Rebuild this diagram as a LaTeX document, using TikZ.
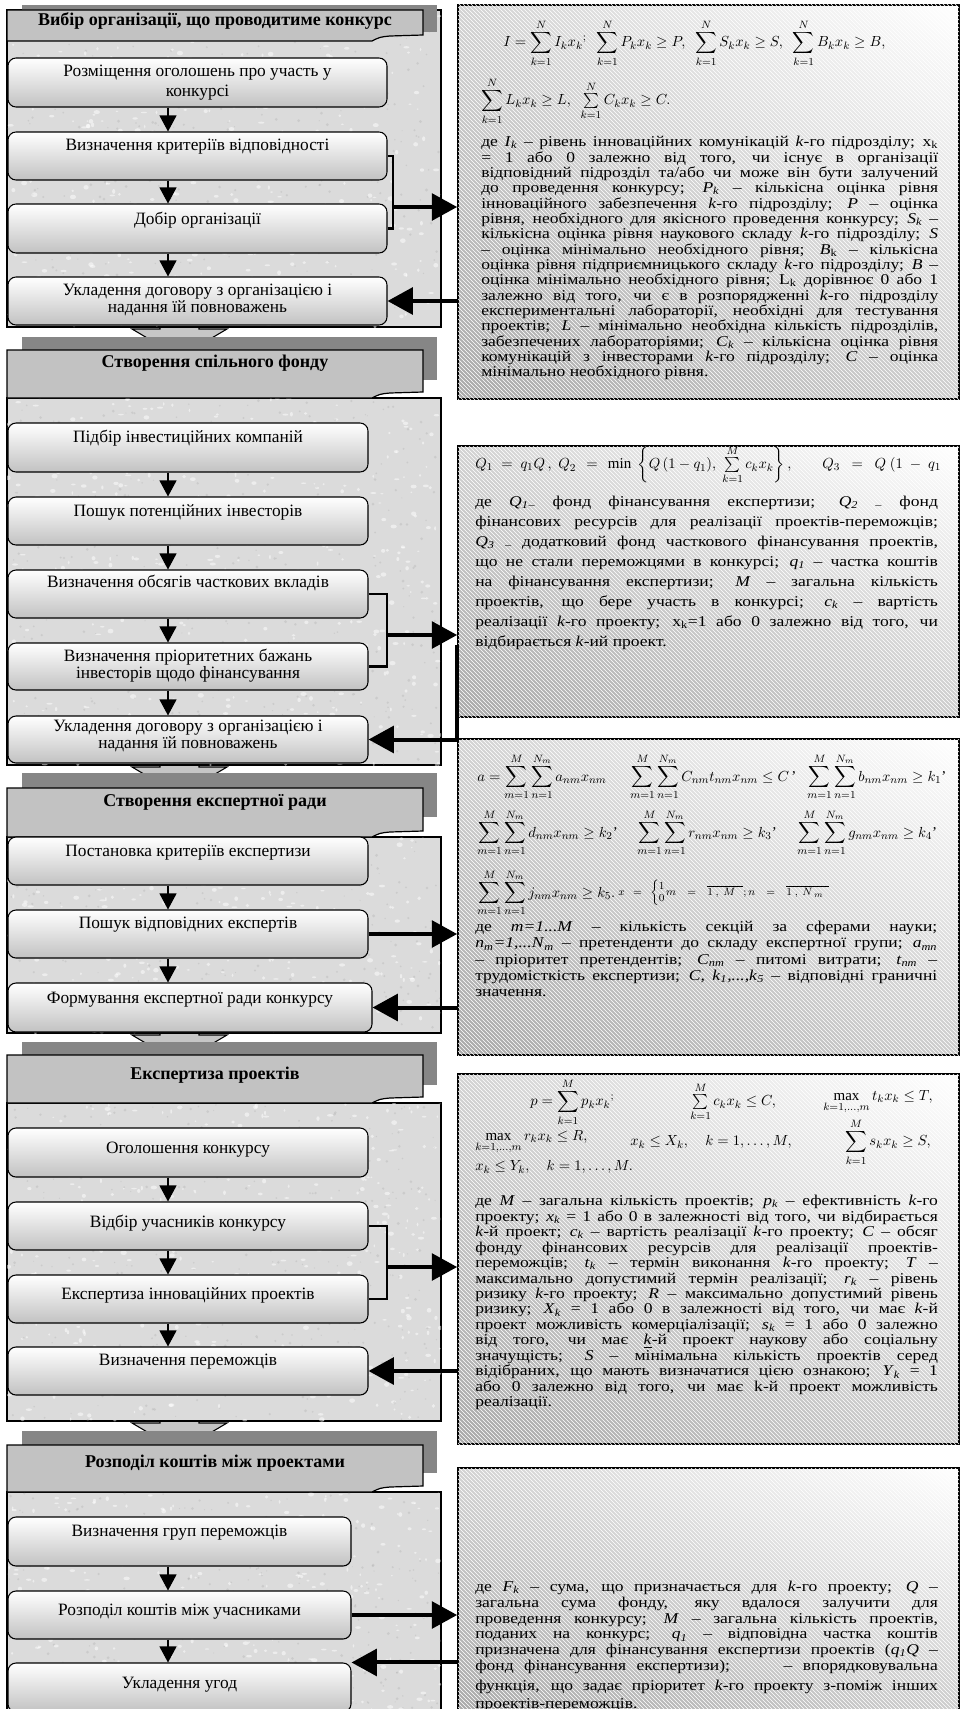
\documentclass[tikz,border=0pt]{standalone}
\usepackage{amsmath,amssymb}
\usepackage{fontspec}
\setmainfont{Liberation Serif}
\newfontfamily\rtfont[FakeStretch=1.17]{Liberation Serif}
\usetikzlibrary{arrows.meta,fit,patterns,shadings}
\newcommand\iv[2]{\textit{#1}\textsubscript{\textit{#2}}}
\newcommand\sechead[4]{%
  \fill[hshadow] (22,#3) rectangle (437,#4);
  \draw[hdr] (7,#1) -- (423,#1) -- (423,#2-6) -- (390,#2-5) .. controls (380,#2-4) .. (372,#2) -- (7,#2) -- cycle;}
\newcommand\speckle[5]{%
  \begin{scope}
  \clip (#1,#2) rectangle (#3,#4);
  \foreach \i in {1,...,#5}{%
    \fill[white,opacity=0.5] ({#1+(#3-#1)*rnd},{#2+(#4-#2)*rnd}) ellipse ({(0.6+1.8*rnd)*1pt} and {(0.5+1.3*rnd)*1pt});
    \fill[gray!75,opacity=0.25] ({#1+(#3-#1)*rnd},{#2+(#4-#2)*rnd}) circle ({(0.4+0.8*rnd)*1pt});}
  \end{scope}}
\hyphenpenalty=10000 \exhyphenpenalty=10000 \tolerance=9999 \hbadness=10000
\begin{document}
\begin{tikzpicture}[x=0.75pt,y=-0.75pt,
  lpanel/.style={draw=black, line width=0.9pt, fill=gray!28, inner sep=0pt},
  hshadow/.style={fill=gray!95},
  hdr/.style={draw=black, line width=0.9pt, fill=gray!48},
  hdrtxt/.style={font=\fontsize{13.5}{15}\selectfont\bfseries, inner sep=0pt, anchor=base},
  stepbox/.style={draw=black, line width=0.8pt, rounded corners=6pt, top color=white, bottom color=gray!48, inner sep=0pt},
  boxtxt/.style={font=\fontsize{13}{11.25}\selectfont, inner sep=0pt, align=center, anchor=north},
  dnarrow/.style={line width=0.8pt, -{Triangle[width=12.75pt,length=12pt]}},
  bracket/.style={line width=2.2pt},
  bigarrow/.style={line width=3pt, -{Triangle[width=20pt,length=19pt]}},
  rpanel/.style={draw=black, line width=1.3pt, inner sep=0pt, upper left=gray!35, upper right=white, lower left=gray!68, lower right=gray!40,
     postaction={pattern=north west lines, pattern color=white, fill opacity=0.45}},
  rtxt/.style={inner sep=0pt, anchor=north west, align=justify},
  fml/.style={inner sep=0pt, anchor=west, font=\fontsize{11.25}{13}\selectfont},
  blockarrow/.style={draw=black, line width=0.8pt, fill=gray!45},
]
\useasboundingbox (0,0) rectangle (962,1709);
\clip (0,0) rectangle (962,1709);
\fill[white] (0,0) rectangle (962,1709);
\pgfmathsetseed{7}
\coordinate (ax) at (168,0);
\coordinate (br1) at (393,0);
\coordinate (br2) at (387,0);

% block arrows between sections
\foreach \yy in {329,767,1035,1423}{
  \filldraw[blockarrow] (160,\yy-20) -- (160,\yy) -- (132,\yy) -- (179.5,\yy+28) -- (227,\yy) -- (199,\yy) -- (199,\yy-20) -- cycle;}

% ---------- Section 1
\node[lpanel, fit={(7,10) (441,327)}] (l1) {};
\speckle{7}{10}{441}{327}{420}
\sechead{10}{41}{5}{32}
\node[hdrtxt] (h1) at (215,26) {Вибір організації, що проводитиме конкурс};
\node[stepbox, fit={(8,58) (387,107)}] (b11) {};
\node[stepbox, fit={(8,132) (387,180)}] (b12) {};
\node[stepbox, fit={(8,204) (387,253)}] (b13) {};
\node[stepbox, fit={(8,277) (387,325)}] (b14) {};
\node[boxtxt] (t11) at (197.5,65) {Розміщення оголошень про участь у\\[2.5pt]конкурсі};
\node[boxtxt] (t12) at (197.5,139) {Визначення критеріїв відповідності};
\node[boxtxt] (t13) at (197.5,212) {Добір організації};
\node[boxtxt] (t14) at (197.5,284) {Укладення договору з організацією і\\надання їй повноважень};

% ---------- Section 2
\node[lpanel, fit={(7,398) (441,765)}] (l2) {};
\speckle{7}{398}{441}{765}{480}
\sechead{350}{398}{337}{380}
\node[hdrtxt] (h2) at (215,367) {Створення спільного фонду};
\node[stepbox, fit={(8,423) (368,472)}] (b21) {};
\node[stepbox, fit={(8,497) (368,545)}] (b22) {};
\node[stepbox, fit={(8,570) (368,618)}] (b23) {};
\node[stepbox, fit={(8,643) (368,690)}] (b24) {};
\node[stepbox, fit={(8,716) (368,763)}] (b25) {};
\node[boxtxt] (t21) at (188,430) {Підбір інвестиційних компаній};
\node[boxtxt] (t22) at (188,504) {Пошук потенційних інвесторів};
\node[boxtxt] (t23) at (188,575) {Визначення обсягів часткових вкладів};
\node[boxtxt] (t24) at (188,649) {Визначення пріоритетних бажань\\інвесторів щодо фінансування};
\node[boxtxt] (t25) at (188,720) {Укладення договору з організацією і\\надання їй повноважень};

% ---------- Section 3
\node[lpanel, fit={(7,837) (441,1033)}] (l3) {};
\speckle{7}{837}{441}{1033}{260}
\sechead{788}{837}{773}{817}
\node[hdrtxt] (h3) at (215,806) {Створення експертної ради};
\node[stepbox, fit={(8,837) (368,885)}] (b31) {};
\node[stepbox, fit={(8,910) (368,958)}] (b32) {};
\node[stepbox, fit={(8,983) (372,1032)}] (b33) {};
\node[boxtxt] (t31) at (188,845) {Постановка критеріїв експертизи};
\node[boxtxt] (t32) at (188,917) {Пошук відповідних експертів};
\node[boxtxt] (t33) at (190,992) {Формування експертної ради конкурсу};

% ---------- Section 4
\node[lpanel, fit={(7,1103) (441,1421)}] (l4) {};
\speckle{7}{1103}{441}{1421}{420}
\sechead{1055}{1103}{1042}{1085}
\node[hdrtxt] (h4) at (215,1079) {Експертиза проектів};
\node[stepbox, fit={(8,1128) (368,1177)}] (b41) {};
\node[stepbox, fit={(8,1202) (368,1250)}] (b42) {};
\node[stepbox, fit={(8,1275) (368,1323)}] (b43) {};
\node[stepbox, fit={(8,1347) (368,1395)}] (b44) {};
\node[boxtxt] (t41) at (188,1142) {Оголошення конкурсу};
\node[boxtxt] (t42) at (188,1215) {Відбір учасників конкурсу};
\node[boxtxt] (t43) at (188,1287) {Експертиза інноваційних проектів};
\node[boxtxt] (t44) at (188,1354) {Визначення переможців};

% ---------- Section 5
\node[lpanel, fit={(7,1492) (441,1715)}] (l5) {};
\speckle{7}{1492}{441}{1715}{300}
\sechead{1445}{1492}{1431}{1473}
\node[hdrtxt] (h5) at (215,1467) {Розподіл коштів між проектами};
\node[stepbox, fit={(8,1517) (351,1566)}] (b51) {};
\node[stepbox, fit={(8,1591) (351,1639)}] (b52) {};
\node[stepbox, fit={(8,1663) (351,1712)}] (b53) {};
\node[boxtxt] (t51) at (179.5,1525) {Визначення груп переможців};
\node[boxtxt] (t52) at (179.5,1604) {Розподіл коштів між учасниками};
\node[boxtxt] (t53) at (179.5,1677) {Укладення угод};

% ---------- right panels
\node[rpanel, fit={(458,5) (959,399)}] (p1) {};
\node[rpanel, fit={(458,446) (959,717)}] (p2) {};
\node[rpanel, fit={(458,739) (959,1055)}] (p3) {};
\node[rpanel, fit={(458,1074) (959,1444)}] (p4) {};
\node[rpanel, fit={(458,1468) (959,1715)}] (p5) {};

% panel 1
\node[fml] (f11) at (503,43) {$\displaystyle I=\sum_{k=1}^{N} I_k x_k{}^{;}\ \ \sum_{k=1}^{N} P_k x_k \ge P,\ \ \sum_{k=1}^{N} S_k x_k \ge S,\ \ \sum_{k=1}^{N} B_k x_k \ge B,$};
\node[fml] (f12) at (481,101) {$\displaystyle \sum_{k=1}^{N} L_k x_k \ge L,\ \ \textstyle\sum\limits_{k=1}^{N} C_k x_k \ge C.$};
\node[rtxt, text width=342.75pt, font=\rtfont\fontsize{11.25}{11.5}\selectfont] (x1) at (481,136) {%
де \iv{I}{k} – рівень інноваційних комунікацій \textit{k}-го підрозділу; x\textsubscript{k}\linebreak
= 1 або 0 залежно від того, чи існує в організації\linebreak
відповідний підрозділ та/або чи може він бути залучений\linebreak
до проведення конкурсу; \iv{P}{k} – кількісна оцінка рівня\linebreak
інноваційного забезпечення \textit{k}-го підрозділу; \textit{P} – оцінка\linebreak
рівня, необхідного для якісного проведення конкурсу; \iv{S}{k} –\linebreak
кількісна оцінка рівня наукового складу \textit{k}-го підрозділу; \textit{S}\linebreak
– оцінка мінімально необхідного рівня; \textit{B}\textsubscript{k} – кількісна\linebreak
оцінка рівня підприємницького складу \textit{k}-го підрозділу; \textit{B} –\linebreak
оцінка мінімально необхідного рівня; L\textsubscript{k} дорівнює 0 або 1\linebreak
залежно від того, чи є в розпорядженні \textit{k}-го підрозділу\linebreak
експериментальні лабораторії, необхідні для тестування\linebreak
проектів; \textit{L} – мінімально необхідна кількість підрозділів,\linebreak
забезпечених лабораторіями; \iv{C}{k} – кількісна оцінка рівня\linebreak
комунікацій з інвесторами \textit{k}-го підрозділу; \textit{C} – оцінка\linebreak
мінімально необхідного рівня.};

% panel 2
\begin{scope}
\clip (458,446) rectangle (957,717);
\node[fml] (f2a) at (475,465) {$Q_1 \;=\; q_1 Q\,,$};
\node[fml] (f2b) at (558,465) {$Q_2\ \,=\ \,\min\ \left\{Q\,(1 - q_1),\ \sum\limits_{k=1}^{M} c_k x_k\right\},$};
\node[fml] (f2c) at (822,465) {$Q_3\ \ =\ \ Q\ (1\ -\ q_1$};
\end{scope}
\node[rtxt, text width=347pt, font=\rtfont\fontsize{11.25}{15}\selectfont] (x2) at (475,496) {%
де \iv{Q}{1}\textsubscript{–} фонд фінансування експертизи; \iv{Q}{2} \textsubscript{–} фонд\linebreak
фінансових ресурсів для реалізації проектів-переможців;\linebreak
\iv{Q}{3} \textsubscript{–} додатковий фонд часткового фінансування проектів,\linebreak
що не стали переможцями в конкурсі; \iv{q}{1} – частка коштів\linebreak
на фінансування експертизи; \textit{M} – загальна кількість\linebreak
проектів, що бере участь в конкурсі; \iv{c}{k} – вартість\linebreak
реалізації \textit{k}-го проекту; x\textsubscript{k}=1 або 0 залежно від того, чи\linebreak
відбирається \textit{k}-ий проект.};

% panel 3
\node[fml] (f31) at (477,777) {$\displaystyle a=\sum_{m=1}^{M}\sum_{n=1}^{N_m} a_{nm}x_{nm}$};
\node[fml] (f32) at (630,777) {$\displaystyle \sum_{m=1}^{M}\sum_{n=1}^{N_m} C_{nm}t_{nm}x_{nm} \le C\,$’};
\node[fml] (f33) at (807,777) {$\displaystyle \sum_{m=1}^{M}\sum_{n=1}^{N_m} b_{nm}x_{nm} \ge k_1$’};
\node[fml] (f34) at (477,833) {$\displaystyle \sum_{m=1}^{M}\sum_{n=1}^{N_m} d_{nm}x_{nm} \ge k_2$’};
\node[fml] (f35) at (637,833) {$\displaystyle \sum_{m=1}^{M}\sum_{n=1}^{N_m} r_{nm}x_{nm} \ge k_3$’};
\node[fml] (f36) at (797,833) {$\displaystyle \sum_{m=1}^{M}\sum_{n=1}^{N_m} g_{nm}x_{nm} \ge k_4$’};
\node[fml] (f37) at (477,893) {$\displaystyle \sum_{m=1}^{M}\sum_{n=1}^{N_m} j_{nm}x_{nm} \ge k_5.$};
\node[fml, font=\fontsize{8}{9}\selectfont] (f38) at (618,893) {$x\ \ =\ \ \left\{\begin{array}{@{}l@{}}1\\0\end{array}\right.\! m\ \ \ =\ \ \ \overline{1\ ,\ M\ \ \ };n\ \ \ =\ \ \ \overline{1\ ,\ N_{\ m}\ \ }$};
\node[rtxt, text width=346.5pt, font=\rtfont\fontsize{11.25}{12.2}\selectfont] (x3) at (475,921) {%
де \textit{m=1...M} – кількість секцій за сферами науки;\linebreak
\iv{n}{m}\textit{=1,...N}\textsubscript{\textit{m}} – претенденти до складу експертної групи; \iv{a}{mn}\linebreak
– пріоритет претендентів; \iv{C}{nm} – питомі витрати; \iv{t}{nm} –\linebreak
трудомісткість експертизи; \textit{C, k}\textsubscript{\textit{1}}\textit{,...,k}\textsubscript{\textit{5}} – відповідні граничні\linebreak
значення.};

% panel 4
\node[fml] (f41) at (530,1102) {$\displaystyle p=\sum_{k=1}^{M} p_k x_k{}^{;}$};
\node[fml] (f42) at (690,1102) {$\textstyle\sum\limits_{k=1}^{M} c_k x_k \le C,$};
\node[fml] (f43) at (823,1102) {$\max\limits_{k=1,\dots,m} t_k x_k \le T,$};
\node[fml] (f44) at (475,1142) {$\max\limits_{k=1,\dots,m} r_k x_k \le R,$};
\node[fml] (f45) at (630,1142) {$x_k \le X_k,\quad k = 1,\dots,M,$};
\node[fml] (f46) at (845,1142) {$\displaystyle \sum_{k=1}^{M} s_k x_k \ge S,$};
\node[fml] (f47) at (475,1167) {$x_k \le Y_k,\quad k = 1,\dots,M.$};
\node[rtxt, text width=347pt, font=\rtfont\fontsize{11.25}{11.6}\selectfont] (x4) at (475,1195) {%
де \textit{M} – загальна кількість проектів; \iv{p}{k} – ефективність \textit{k}-го\linebreak
проекту; \iv{x}{k} = 1 або 0 в залежності від того, чи відбирається\linebreak
\textit{k}-й проект; \iv{c}{k} – вартість реалізації \textit{k}-го проекту; \textit{C} – обсяг\linebreak
фонду фінансових ресурсів для реалізації проектів-\linebreak
переможців; \iv{t}{k} – термін виконання \textit{k}-го проекту; \textit{T} –\linebreak
максимально допустимий термін реалізації; \iv{r}{k} – рівень\linebreak
ризику \textit{k}-го проекту; \textit{R} – максимально допустимий рівень\linebreak
ризику; \iv{X}{k} = 1 або 0 в залежності від того, чи має \textit{k}-й\linebreak
проект можливість комерціалізації; \iv{s}{k} = 1 або 0 залежно\linebreak
від того, чи має \underline{\textit{k}}-й проект наукову або соціальну\linebreak
значущість; \textit{S} – мінімальна кількість проектів серед\linebreak
відібраних, що мають визначатися цією ознакою; \iv{Y}{k} = 1\linebreak
або 0 залежно від того, чи має k-й проект можливість\linebreak
реалізації.};

% panel 5
\node[rtxt, text width=347pt, font=\rtfont\fontsize{11.25}{11.8}\selectfont] (x5) at (475,1581) {%
де \iv{F}{k} – сума, що призначається для \textit{k}-го проекту; \textit{Q} –\linebreak
загальна сума фонду, яку вдалося залучити для\linebreak
проведення конкурсу; \textit{M} – загальна кількість проектів,\linebreak
поданих на конкурс; \iv{q}{1} – відповідна частка коштів\linebreak
призначена для фінансування експертизи проектів (\iv{q}{1}\textit{Q} –\linebreak
фонд фінансування експертизи);\hspace{30pt} – впорядковувальна\linebreak
\rule{0pt}{11.5pt}функція, що задає пріоритет \textit{k}-го проекту з-поміж інших\linebreak
\rule{0pt}{10.5pt}проектів-переможців.};

% ---------- connectors
\draw[dnarrow] (b11.south -| ax) -- (b12.north -| ax);
\draw[dnarrow] (b12.south -| ax) -- (b13.north -| ax);
\draw[dnarrow] (b13.south -| ax) -- (b14.north -| ax);
\draw[dnarrow] (b21.south -| ax) -- (b22.north -| ax);
\draw[dnarrow] (b22.south -| ax) -- (b23.north -| ax);
\draw[dnarrow] (b23.south -| ax) -- (b24.north -| ax);
\draw[dnarrow] (b24.south -| ax) -- (b25.north -| ax);
\draw[dnarrow] (b31.south -| ax) -- (b32.north -| ax);
\draw[dnarrow] (b32.south -| ax) -- (b33.north -| ax);
\draw[dnarrow] (b41.south -| ax) -- (b42.north -| ax);
\draw[dnarrow] (b42.south -| ax) -- (b43.north -| ax);
\draw[dnarrow] (b43.south -| ax) -- (b44.north -| ax);
\draw[dnarrow] (b51.south -| ax) -- (b52.north -| ax);
\draw[dnarrow] (b52.south -| ax) -- (b53.north -| ax);

% section 1
\draw[bracket] (b12.east) -| (b13.east -| br1) -- (b13.east);
\coordinate (o1) at (393,207);
\draw[bigarrow] (o1) -- (o1 -| p1.west);
\draw[bigarrow] (b14.east -| p1.west) -- (b14.east);
% section 2
\draw[bracket] (b23.east) -| (b24.east -| br2) -- (b24.east);
\coordinate (o2) at (387,635);
\draw[bigarrow] (o2) -- (o2 -| p2.west);
\coordinate (c2) at (457,645);
\draw[bigarrow] (c2) |- (b25.east);
% section 3
\draw[bigarrow] (b32.east) -- (b32.east -| p3.west);
\draw[bigarrow] (b33.east -| p3.west) -- (b33.east);
% section 4
\draw[bracket] (b42.east) -| (b43.east -| br2) -- (b43.east);
\coordinate (o4) at (387,1267);
\draw[bigarrow] (o4) -- (o4 -| p4.west);
\draw[bigarrow] (b44.east -| p4.west) -- (b44.east);
% section 5
\draw[bigarrow] (b52.east) -- (b52.east -| p5.west);
\draw[bigarrow] (p5.west |- b53.north east) -- (b53.north east);
\end{tikzpicture}
\end{document}
